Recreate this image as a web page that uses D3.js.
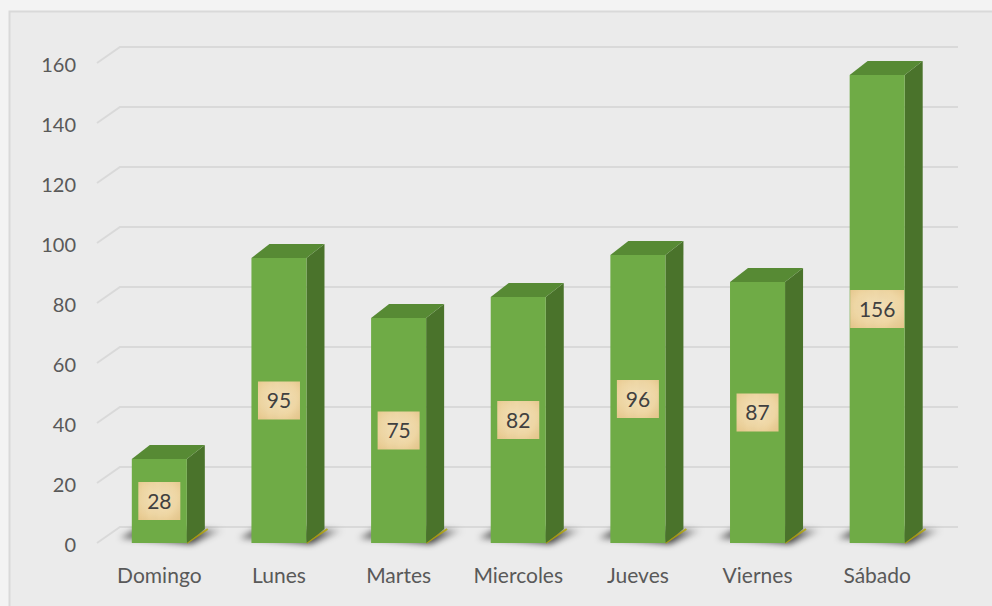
<!DOCTYPE html>
<html>
<head>
<meta charset="utf-8">
<script src="https://cdn.jsdelivr.net/npm/d3@7"></script>
<style>
  html, body { margin: 0; padding: 0; background: #f3f3f3; }
  svg { display: block; }
</style>
</head>
<body>
<svg id="chart" width="992" height="606"></svg>
<script>
// Visitas por día de la semana
const days = ["Domingo", "Lunes", "Martes", "Miercoles", "Jueves", "Viernes", "Sábado"];
const visits = [28, 95, 75, 82, 96, 87, 156];
const yTicks = [0, 20, 40, 60, 80, 100, 120, 140, 160];

const svg = d3.select("#chart");
const W = 992, H = 606;

// chart area panel
svg.append("rect").attr("x", 9.5).attr("y", 11.5).attr("width", W).attr("height", H)
  .attr("fill", "#ebebeb").attr("stroke", "#d9d9d9").attr("stroke-width", 2);

const defs = svg.append("defs");
const blur = defs.append("filter").attr("id", "soft").attr("x", "-50%").attr("y", "-50%")
  .attr("width", "200%").attr("height", "200%");
blur.append("feGaussianBlur").attr("stdDeviation", 3);

const shadowGrad = defs.append("linearGradient").attr("id", "shadowGrad")
  .attr("x1", "0").attr("x2", "1").attr("y1", "0").attr("y2", "0");
shadowGrad.append("stop").attr("offset", "0").attr("stop-color", "#000").attr("stop-opacity", 0.5);
shadowGrad.append("stop").attr("offset", "0.7").attr("stop-color", "#000").attr("stop-opacity", 0.75);
shadowGrad.append("stop").attr("offset", "1").attr("stop-color", "#000").attr("stop-opacity", 0);

const paper = defs.append("radialGradient").attr("id", "paper").attr("cx", "50%").attr("cy", "45%").attr("r", "70%");
paper.append("stop").attr("offset", "0").attr("stop-color", "#f6e4bd");
paper.append("stop").attr("offset", "0.6").attr("stop-color", "#f1d9a7");
paper.append("stop").attr("offset", "1").attr("stop-color", "#e8c98e");

const tex = defs.append("filter").attr("id", "paperTex");
tex.append("feTurbulence").attr("type", "fractalNoise").attr("baseFrequency", "0.09 0.05")
  .attr("numOctaves", 2).attr("seed", 4).attr("result", "noise");
tex.append("feColorMatrix").attr("in", "noise").attr("type", "matrix")
  .attr("values", "0 0 0 0 0.55  0 0 0 0 0.42  0 0 0 0 0.2  0 0 0 0.18 0").attr("result", "tint");
tex.append("feComposite").attr("in", "tint").attr("in2", "SourceGraphic").attr("operator", "atop");

// scales
const x = d3.scaleBand().domain(days).range([99.5, 937]);
const y = d3.scaleLinear().domain([0, 160]).range([543, 63]);

// depth offsets: back wall and column
const wallDx = 23, wallDy = -16;
const barDx = 18, barDy = -14;
const barW = x.bandwidth() * 0.46;

// gridlines on floor edge + back wall
svg.append("g").selectAll("path").data(yTicks).join("path")
  .attr("d", t => `M${97},${y(t)} L${97 + wallDx},${y(t) + wallDy} L958,${y(t) + wallDy}`)
  .attr("fill", "none").attr("stroke", "#d9d9d9").attr("stroke-width", 2);

const font = "Lato, 'Open Sans', sans-serif";

// y axis labels
const yAxis = d3.axisLeft(y).tickValues(yTicks).tickSize(0).tickPadding(0);
const yg = svg.append("g").attr("transform", "translate(76,1)").call(yAxis);
yg.select(".domain").remove();
yg.selectAll("text").attr("font-family", font)
  .attr("font-size", 20).attr("fill", "#595959").attr("dy", "0.36em");

// x axis labels
const xAxis = d3.axisBottom(x).tickSize(0).tickPadding(0);
const xg = svg.append("g").attr("transform", "translate(0,567)").call(xAxis);
xg.select(".domain").remove();
xg.selectAll("text").attr("font-family", font)
  .attr("font-size", 21).attr("fill", "#595959").attr("dy", "0.75em");

const bars = svg.append("g").selectAll("g").data(days.map((d, i) => ({ day: d, v: visits[i] }))).join("g");

const x0 = d => x(d.day) + (x.bandwidth() - barW) / 2;
const x1 = d => x0(d) + barW;
const y0 = y(0);

// floor shadow
bars.append("path")
  .attr("d", d => `M${x0(d) - 12},${y0 - 5} L${x1(d) + 4},${y0 + 1} L${x1(d) + 38},${y0 - 13} L${x0(d) + 8},${y0 - 16} Z`)
  .attr("fill", "url(#shadowGrad)").attr("filter", "url(#soft)");
bars.append("path")
  .attr("d", d => `M${x1(d)},${y0} L${x1(d) + barDx + 3},${y0 + barDy}`)
  .attr("stroke", "#b5a800").attr("stroke-width", 2).attr("opacity", 0.8);

// side face
bars.append("path")
  .attr("d", d => `M${x1(d)},${y(d.v)} L${x1(d) + barDx},${y(d.v) + barDy} L${x1(d) + barDx},${y0 + barDy} L${x1(d)},${y0} Z`)
  .attr("fill", "#4a732b");
// top face
bars.append("path")
  .attr("d", d => `M${x0(d)},${y(d.v)} L${x0(d) + barDx},${y(d.v) + barDy} L${x1(d) + barDx},${y(d.v) + barDy} L${x1(d)},${y(d.v)} Z`)
  .attr("fill", "#578a34");
// front face
bars.append("rect")
  .attr("x", x0).attr("y", d => y(d.v))
  .attr("width", barW).attr("height", d => y0 - y(d.v))
  .attr("fill", "#6fab46");

// value labels
const halfW = d => String(d.v).length * 6 + 9;
const labels = bars.append("g")
  .attr("transform", d => `translate(${x0(d) + barW / 2},${(y(d.v) + y0) / 2})`);
labels.append("rect")
  .attr("x", d => -halfW(d))
  .attr("width", d => 2 * halfW(d))
  .attr("y", -19).attr("height", 38)
  .attr("fill", "url(#paper)").attr("filter", "url(#paperTex)");
labels.append("text")
  .text(d => d.v)
  .attr("text-anchor", "middle").attr("dy", "0.36em")
  .attr("font-family", font).attr("font-size", 21)
  .attr("fill", "#404040");
</script>
</body>
</html>
